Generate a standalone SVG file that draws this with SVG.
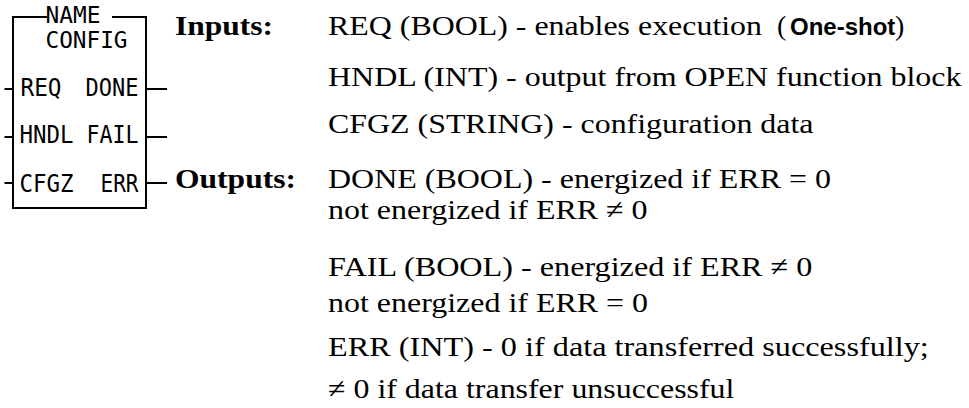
<svg xmlns="http://www.w3.org/2000/svg" width="969" height="408" viewBox="0 0 969 408">
<style>
.box{fill:none;stroke:#000;stroke-width:2}
.pin{fill:none;stroke:#000;stroke-width:2}
.mono{font-family:"DejaVu Sans Mono","Liberation Mono",monospace;font-size:24px;fill:#000}
.title{font-size:23px}
.desc{font-family:"Liberation Serif","Times New Roman",serif;font-size:28px;fill:#000}
.head{font-family:"Liberation Serif","Times New Roman",serif;font-size:28px;font-weight:bold;fill:#000}
.sans{font-family:"Liberation Sans",Arial,sans-serif;font-size:24px;font-weight:bold;fill:#000}
</style>
<rect width="969" height="408" fill="#fff"/>
<g id="config_block">
<path class="box" d="M47,17 H13 V208 H146 V17 H112"/>
<text class="mono title" x="45.5" y="23" textLength="55" lengthAdjust="spacingAndGlyphs">NAME</text>
<text class="mono title" x="45.5" y="47.5" textLength="82" lengthAdjust="spacingAndGlyphs">CONFIG</text>
<text class="mono" x="20.5" y="96" textLength="41" lengthAdjust="spacingAndGlyphs">REQ</text>
<text class="mono" x="85.5" y="96" textLength="53" lengthAdjust="spacingAndGlyphs">DONE</text>
<text class="mono" x="19.5" y="143" textLength="54" lengthAdjust="spacingAndGlyphs">HNDL</text>
<text class="mono" x="86.5" y="143" textLength="52" lengthAdjust="spacingAndGlyphs">FAIL</text>
<text class="mono" x="19.5" y="192" textLength="54" lengthAdjust="spacingAndGlyphs">CFGZ</text>
<text class="mono" x="100.5" y="192" textLength="38" lengthAdjust="spacingAndGlyphs">ERR</text>
</g>
<g id="connectors">
<path class="pin" d="M4.5,89 H13 M4.5,137 H13 M4.5,183 H13"/>
<path class="pin" d="M146,89 H167 M146,137 H167 M146,183 H167"/>
</g>
<g id="inputs">
<text class="head" x="175" y="35" textLength="98" lengthAdjust="spacingAndGlyphs">Inputs:</text>
<text class="desc" x="328" y="35" textLength="434" lengthAdjust="spacingAndGlyphs">REQ (BOOL) - enables execution</text>
<text class="desc" x="777" y="35">(</text>
<text class="sans" x="790" y="35">One-shot</text>
<text class="desc" x="895" y="35">)</text>
<text class="desc" x="328" y="85.5" textLength="633.5" lengthAdjust="spacingAndGlyphs">HNDL (INT) - output from OPEN function block</text>
<text class="desc" x="328" y="133" textLength="485.5" lengthAdjust="spacingAndGlyphs">CFGZ (STRING) - configuration data</text>
</g>
<g id="outputs">
<text class="head" x="175" y="188" textLength="121" lengthAdjust="spacingAndGlyphs">Outputs:</text>
<text class="desc" x="328" y="188" textLength="503" lengthAdjust="spacingAndGlyphs">DONE (BOOL) - energized if ERR = 0</text>
<text class="desc" x="328" y="219" textLength="319.6" lengthAdjust="spacingAndGlyphs">not energized if ERR ≠ 0</text>
<text class="desc" x="328" y="275.5" textLength="484.4" lengthAdjust="spacingAndGlyphs">FAIL (BOOL) - energized if ERR ≠ 0</text>
<text class="desc" x="328" y="312" textLength="320" lengthAdjust="spacingAndGlyphs">not energized if ERR = 0</text>
<text class="desc" x="328" y="356" textLength="600.8" lengthAdjust="spacingAndGlyphs">ERR (INT) - 0 if data transferred successfully;</text>
<text class="desc" x="328" y="398" textLength="406.4" lengthAdjust="spacingAndGlyphs">≠ 0 if data transfer unsuccessful</text>
</g>
</svg>
